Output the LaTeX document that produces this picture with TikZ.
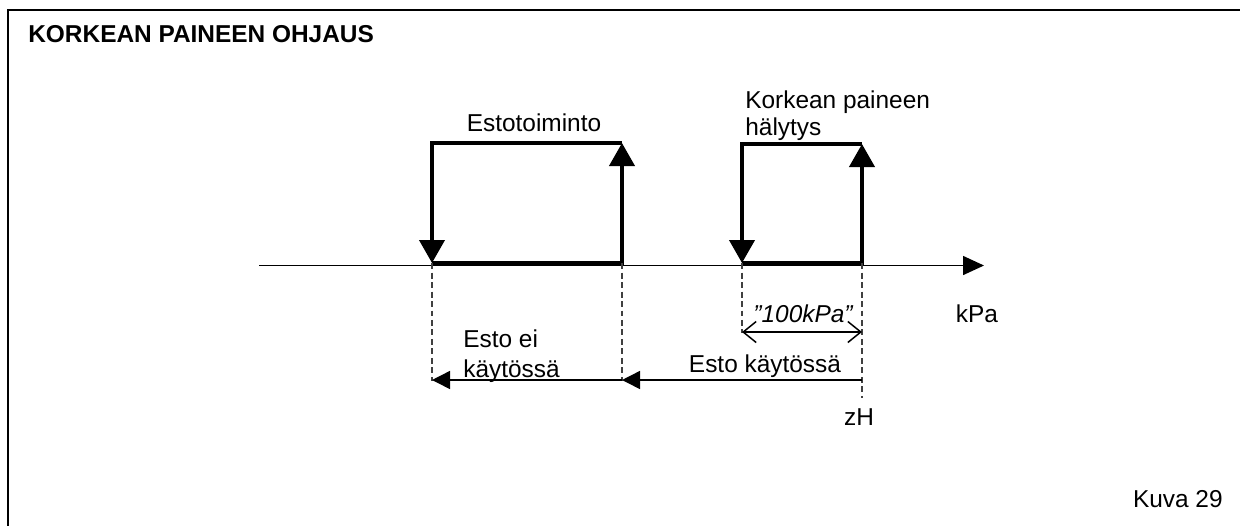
\documentclass[tikz,border=0pt]{standalone}
\usepackage{fontspec}
\setmainfont{Liberation Sans}
\usetikzlibrary{arrows.meta}
\begin{document}
\begin{tikzpicture}[x=0.02cm,y=-0.02cm,
  lbl/.style={inner sep=0pt,font=\fontsize{13.9}{16}\selectfont},
  boxline/.style={line width=0.08cm,line join=miter,-{Triangle[width=0.5cm,length=0.46cm]}},
  axisline/.style={line width=0.03cm,-{Triangle[width=0.38cm,length=0.42cm]}},
  guide/.style={line width=0.022cm,draw=black!75,dash pattern=on 0.12cm off 0.07cm},
  rangearrow/.style={line width=0.03cm,-{Triangle[width=0.36cm,length=0.36cm]}},
  dimarrow/.style={line width=0.03cm,{Straight Barb[width=0.42cm,length=0.26cm]}-{Straight Barb[width=0.42cm,length=0.26cm]}}]
\useasboundingbox (0,0) rectangle (1240,525);
\fill[white] (0,0) rectangle (1240,525);
% frame
\coordinate (fbl) at (8,527);
\coordinate (ftl) at (8,10);
\coordinate (ftr) at (1242,10);
\draw[line width=0.045cm] (fbl) -- (ftl) -- (ftr);
\node[lbl,anchor=base west,font=\fontsize{13.9}{16}\selectfont\bfseries] (title) at (28,42) {KORKEAN PAINEEN OHJAUS};
% axis
\coordinate (ax0) at (259,265.5);
\coordinate (ax1) at (984,265.5);
\draw[axisline] (ax0) -- (ax1);
\node[lbl,anchor=base] (kpa) at (977,322) {kPa};
% box 1
\coordinate (a1) at (432,143);
\coordinate (b1) at (622,143);
\coordinate (c1) at (432,263);
\coordinate (d1) at (622,263);
\draw[boxline] (b1) -- (a1) -- (c1);
\draw[boxline] (c1) -- (d1) -- (b1);
\node[lbl,anchor=base] (esto) at (534,131) {Estotoiminto};
% box 2
\coordinate (a2) at (742,144);
\coordinate (b2) at (862,144);
\coordinate (c2) at (742,263);
\coordinate (d2) at (862,263);
\draw[boxline] (b2) -- (a2) -- (c2);
\draw[boxline] (c2) -- (d2) -- (b2);
\node[lbl,anchor=base west] (kor1) at (745,108) {Korkean paineen};
\node[lbl,anchor=base west] (kor2) at (745,135) {hälytys};
% guides
\coordinate (g1) at (432,381);
\coordinate (g2) at (622,381);
\coordinate (g3) at (742,333);
\coordinate (g4) at (862,398);
\draw[guide] (c1) -- (g1);
\draw[guide] (d1) -- (g2);
\draw[guide] (c2) -- (g3);
\draw[guide] (d2) -- (g4);
% dimension
\coordinate (m1) at (742,332);
\coordinate (m2) at (862,332);
\draw[dimarrow] (m1) -- (m2);
\node[lbl,anchor=base,font=\fontsize{13.9}{16}\selectfont\itshape] (dim) at (803,322) {”100kPa”};
% range arrows
\coordinate (r1) at (862,380);
\coordinate (r2) at (622,380);
\coordinate (r3) at (432,380);
\draw[rangearrow] (r1) -- (r2);
\draw[rangearrow] (r2) -- (r3);
\node[lbl,anchor=base] (ek) at (765,372) {Esto käytössä};
\node[lbl,anchor=base west] (eei1) at (463,347) {Esto ei};
\node[lbl,anchor=base west] (eei2) at (463,377) {käytössä};
\node[lbl,anchor=base] (zh) at (859,425) {zH};
\node[lbl,anchor=base east] (kuva) at (1223,507) {Kuva 29};
\end{tikzpicture}
\end{document}
